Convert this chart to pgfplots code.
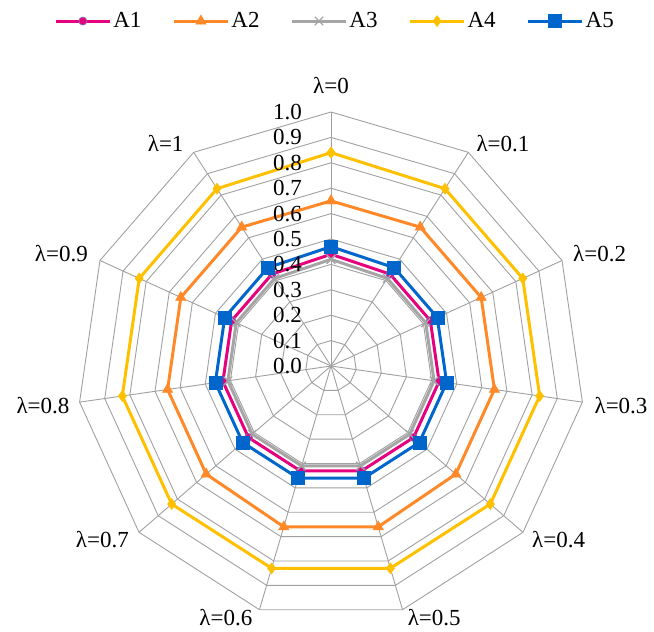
\documentclass[border=0pt]{standalone}
\usepackage{fontspec}
\setmainfont{Liberation Serif}
\usepackage{pgfplots}
\usepackage{pgfplotstable}
\pgfplotsset{compat=1.18}
\usepgfplotslibrary{polar}

\definecolor{cA1}{RGB}{230,0,126}
\definecolor{cA2}{RGB}{255,137,40}
\definecolor{cA3}{RGB}{165,165,165}
\definecolor{cA4}{RGB}{255,192,0}
\definecolor{cA5}{RGB}{0,102,204}
\definecolor{gridc}{RGB}{160,160,160}

% angle = 90 - k*360/11, lambda = k/10 ; last row closes the polygon
\pgfplotstableread{
ang        A1   A2   A3   A4   A5
90         0.44 0.65 0.42 0.84 0.47
57.2727    0.43 0.65 0.41 0.83 0.46
24.5455    0.43 0.65 0.41 0.83 0.46
-8.1818    0.43 0.65 0.41 0.83 0.46
-40.9091   0.43 0.65 0.41 0.83 0.46
-73.6364   0.43 0.66 0.41 0.83 0.46
-106.3636  0.43 0.66 0.41 0.83 0.46
-139.0909  0.43 0.65 0.41 0.83 0.46
-171.8182  0.43 0.65 0.41 0.83 0.46
-204.5455  0.43 0.65 0.41 0.83 0.46
-237.2727  0.43 0.65 0.41 0.83 0.46
90         0.44 0.65 0.42 0.84 0.47
}\radar

\newcommand{\lf}{\fontsize{23bp}{27bp}\selectfont}

\begin{document}
\begin{tikzpicture}
\path[use as bounding box] (0,0) rectangle (654bp,632bp);
\begin{polaraxis}[
    at={(331bp,266bp)}, anchor=center,
    width=508bp, height=508bp, scale only axis,
    hide axis, clip=false,
    ymin=0, ymax=1,
    legend columns=5,
    legend style={at={(axis description cs:0.508,1.179)}, anchor=center,
        draw=none, fill=none, font=\lf, inner sep=0pt,
        /tikz/every even column/.append style={column sep=29bp}},
    legend image code/.code={
        \draw[mark repeat=2, mark phase=2] plot coordinates {(0bp,0bp) (27bp,0bp) (54bp,0bp)};},
]
% grid rings
\pgfplotsinvokeforeach{0.1,0.2,0.3,0.4,0.5,0.6,0.7,0.8,0.9,1.0}{
    \addplot[gridc, line width=0.9pt, no marks, forget plot] table[x=ang, y expr=#1] {\radar};
}
% spokes
\pgfplotsinvokeforeach{90,57.2727,24.5455,-8.1818,-40.9091,-73.6364,-106.3636,-139.0909,-171.8182,-204.5455,-237.2727}{
    \addplot[gridc, line width=0.9pt, no marks, forget plot] coordinates {(#1,0) (#1,1)};
}

\addplot[cA1, line width=3pt, mark=*, mark size=4bp, mark options={fill=cA1, draw=cA1!60!cyan, line width=0.8pt}] table[x=ang, y=A1] {\radar};
\addlegendentry{A1}
\addplot[cA2, line width=3pt, mark=triangle*, mark size=6bp, mark options={solid, line width=0.5pt}] table[x=ang, y=A2] {\radar};
\addlegendentry{A2}
\addplot[cA3, line width=3pt, mark=x, mark size=6bp, mark options={line width=1.2pt}] table[x=ang, y=A3] {\radar};
\addlegendentry{A3}
\addplot[cA4, line width=3pt, mark=diamond*, mark size=5.5bp, mark options={line width=0.5pt}] table[x=ang, y=A4] {\radar};
\addlegendentry{A4}
\addplot[cA5, line width=3pt, mark=square*, mark size=6.5bp, mark options={line width=0.5pt}] table[x=ang, y=A5] {\radar};
\addlegendentry{A5}

% radial scale labels
\pgfplotsinvokeforeach{0.0,0.1,0.2,0.3,0.4,0.5,0.6,0.7,0.8,0.9,1.0}{
    \node[font=\lf, anchor=east, inner sep=0pt, xshift=-29bp] at (axis cs:90,#1) {#1};
}

% spoke labels
\node[font=\lf, inner sep=0pt, anchor=center, yshift=26bp] at (axis cs:90,1) {λ=0};
\node[font=\lf, inner sep=0pt, anchor=west, xshift=8bp,  yshift=9bp]  at (axis cs:57.2727,1) {λ=0.1};
\node[font=\lf, inner sep=0pt, anchor=west, xshift=11bp, yshift=7bp]  at (axis cs:24.5455,1) {λ=0.2};
\node[font=\lf, inner sep=0pt, anchor=west, xshift=12bp, yshift=-3bp] at (axis cs:-8.1818,1) {λ=0.3};
\node[font=\lf, inner sep=0pt, anchor=west, xshift=9bp,  yshift=-7bp] at (axis cs:-40.9091,1) {λ=0.4};
\node[font=\lf, inner sep=0pt, anchor=west, xshift=5bp,  yshift=-8bp] at (axis cs:-73.6364,1) {λ=0.5};
\node[font=\lf, inner sep=0pt, anchor=east, xshift=-7bp, yshift=-8bp] at (axis cs:-106.3636,1) {λ=0.6};
\node[font=\lf, inner sep=0pt, anchor=east, xshift=-10bp,yshift=-7bp] at (axis cs:-139.0909,1) {λ=0.7};
\node[font=\lf, inner sep=0pt, anchor=east, xshift=-10bp,yshift=-3bp] at (axis cs:-171.8182,1) {λ=0.8};
\node[font=\lf, inner sep=0pt, anchor=east, xshift=-12bp,yshift=7bp]  at (axis cs:-204.5455,1) {λ=0.9};
\node[font=\lf, inner sep=0pt, anchor=east, xshift=-10bp,yshift=9bp]  at (axis cs:-237.2727,1) {λ=1};
\end{polaraxis}
\end{tikzpicture}
\end{document}
